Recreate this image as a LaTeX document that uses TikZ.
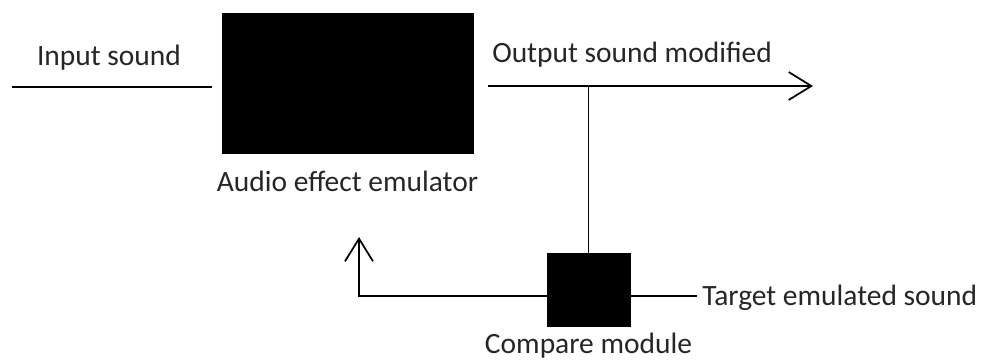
\documentclass[tikz,border=0pt]{standalone}
\usepackage{fontspec}
\setmainfont{Carlito}
\usetikzlibrary{arrows.meta, positioning}

\begin{document}
\begin{tikzpicture}[
    x=0.75pt, y=-0.75pt,
    block/.style={rectangle, draw=black, fill=black, inner sep=0pt},
    lbl/.style={font=\fontsize{22.1}{27}\selectfont, text=black!85, inner sep=0pt, anchor=base},
    line/.style={draw=black, line width=1.3pt},
    arr/.style={line, -{Straight Barb[length=17pt, width=21pt, line width=1.3pt]}}
]
\useasboundingbox (0,0) rectangle (982,360);

% Blocks
\node [block, minimum width=188pt, minimum height=105pt] (emu) at (347.5,83) {};
\node [block, minimum width=62pt, minimum height=55pt] (cmp) at (588.5,289.5) {};

% Free ends
\coordinate (in) at (12,87);
\coordinate (out) at (813,86);
\coordinate (fb) at (359,237);
\coordinate (tgt) at (697,296);

% Labels
\node [lbl] (inlbl) at (109,65) {Input sound};
\node [lbl, anchor=base west] (outlbl) at (492,63) {Output sound modified};
\node [lbl, below=28.5pt of emu.south, anchor=base] (emulbl) {Audio effect emulator};
\node [lbl, below=20.25pt of cmp.south, anchor=base] (cmplbl) {Compare module};
\node [lbl, anchor=base west] (tgtlbl) at (702,305) {Target emulated sound};

% Connections
\draw [line] (in) -- ([xshift=-7.5pt]in -| emu.west);
\draw [arr] ([xshift=11pt]emu.east |- out) -- (out);
\draw [line] (cmp.north) -- (cmp.north |- out);
\draw [arr] (cmp.west |- tgt) -- (fb |- tgt) -- (fb);
\draw [line] (cmp.east |- tgt) -- (tgt);

\end{tikzpicture}
\end{document}
